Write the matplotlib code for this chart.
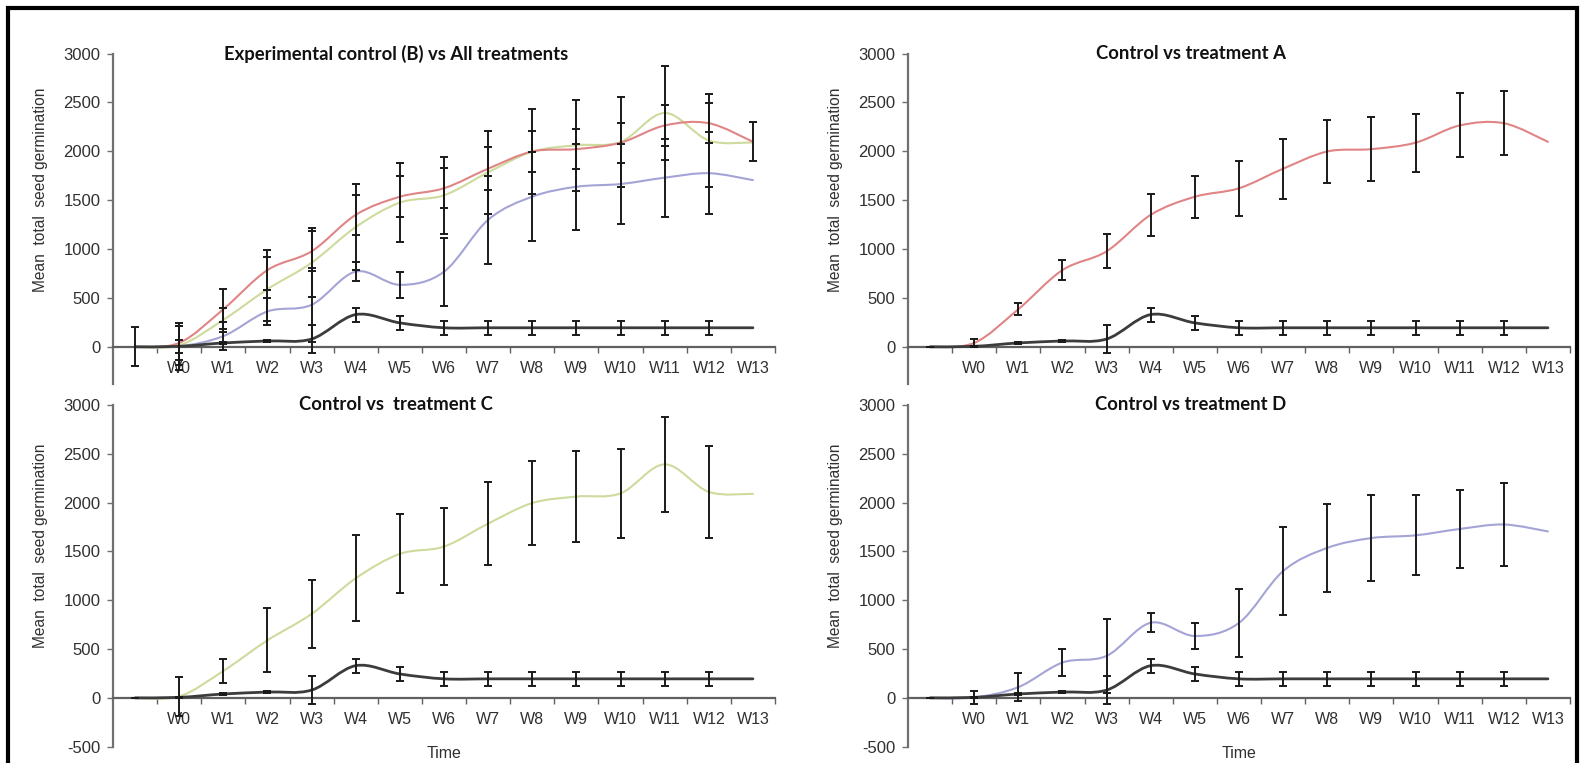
import matplotlib.pyplot as plt
import numpy as np
from matplotlib.path import Path
from matplotlib.patches import PathPatch, Rectangle

# categories: first slot is unlabeled, then weeks
weeks = ['', 'W0', 'W1', 'W2', 'W3', 'W4', 'W5', 'W6', 'W7', 'W8', 'W9', 'W10', 'W11', 'W12', 'W13']

# mean total seed germination per series
control = [0, 5, 40, 60, 80, 330, 245, 195, 195, 195, 195, 195, 195, 195, 195]
treat_a = [0, 40, 385, 785, 977, 1350, 1535, 1622, 1822, 1998, 2022, 2088, 2264, 2287, 2097]
treat_c = [0, 15, 276, 590, 860, 1225, 1475, 1550, 1785, 1996, 2062, 2095, 2392, 2110, 2090]
treat_d = [0, 5, 110, 362, 430, 770, 634, 768, 1299, 1536, 1637, 1665, 1730, 1776, 1705]

nan = np.nan
# error bars (nan = no bar drawn)
err_control = [0, 5, 10, 8, 140, 72, 75, 73, 73, 73, 73, 73, 73, 73, nan]
err_a = [nan, 38, 60, 100, 175, 218, 215, 280, 308, 320, 324, 298, 327, 330, nan]
err_c = [nan, 200, 123, 327, 351, 440, 405, 396, 426, 435, 467, 459, 483, 472, nan]
err_d = [nan, 68, 141, 140, 380, 98, 133, 350, 447, 452, 440, 411, 400, 422, nan]
# the combined panel was built with its own bars for control and A
err_control_all = [200, 240, 10, 8, 140, 72, 75, 73, 73, 73, 73, 73, 73, 73, nan]
err_a_all = [nan, 170, 205, 205, 205, 206, 208, 205, 218, 205, 205, 203, 206, 207, 200]

c_ctrl = '#3c3c3c'
c_a = '#e08585'
c_c = '#cddb9c'
c_d = '#a4a4d6'

plt.rcParams['font.family'] = ['Liberation Sans', 'DejaVu Sans']
plt.rcParams['axes.unicode_minus'] = False

fig = plt.figure(figsize=(15.85, 7.63), dpi=100)
W, H = 1585.0, 763.0


def smooth_line(ax, y, color, lw, z):
    # excel style smoothed line: cubic bezier through every point
    x = np.arange(len(y), dtype=float)
    y = np.asarray(y, dtype=float)
    pts = np.column_stack([x, y])
    verts = [pts[0]]
    codes = [Path.MOVETO]
    n = len(pts)
    for i in range(n - 1):
        p0 = pts[max(i - 1, 0)]
        p1 = pts[i]
        p2 = pts[i + 1]
        p3 = pts[min(i + 2, n - 1)]
        c1 = p1 + (p2 - p0) / 6.0
        c2 = p2 - (p3 - p1) / 6.0
        verts += [c1, c2, p2]
        codes += [Path.CURVE4] * 3
    patch = PathPatch(Path(verts, codes), fill=False, edgecolor=color, lw=lw, zorder=z,
                      capstyle='round', joinstyle='round')
    ax.add_patch(patch)


def bars(ax, y, err):
    x = np.arange(len(y))
    y = np.asarray(y, dtype=float)
    err = np.asarray(err, dtype=float)
    ok = ~np.isnan(err)
    ax.errorbar(x[ok], y[ok], yerr=err[ok], fmt='none', ecolor='#1a1a1a',
                elinewidth=1.4, capsize=3, capthick=1.4, zorder=5)


def panel(left_px, top_px, bottom_px, ymin, title, bottom_row):
    ax = fig.add_axes([left_px / W, 1 - bottom_px / H, 662 / W, (bottom_px - top_px) / H])
    ax.set_xlim(-0.5, 14.5)
    ax.set_ylim(ymin, 3000)
    ax.patch.set_alpha(0)
    for s in ['top', 'right']:
        ax.spines[s].set_visible(False)
    ax.spines['bottom'].set_position(('data', 0))
    ax.spines['left'].set_color('#707070')
    ax.spines['bottom'].set_color('#606060')
    ax.spines['left'].set_linewidth(1.6)
    ax.spines['bottom'].set_linewidth(1.6)

    ax.set_yticks(np.arange(0 if not bottom_row else -500, 3001, 500))
    ax.tick_params(axis='y', length=4, width=1, color='#707070', labelsize=12, pad=5,
                   labelcolor='#303030')
    # category ticks between the slots, labels in the middle
    ax.set_xticks(np.arange(0.5, 14.6, 1.0))
    ax.set_xticklabels([])
    ax.tick_params(axis='x', which='major', length=4, width=1, color='#606060')
    ax.set_xticks(np.arange(15), minor=True)
    ax.set_xticklabels(weeks, minor=True)
    ax.tick_params(axis='x', which='minor', length=0, labelsize=11.5, pad=10, labelcolor='#303030')

    ax.set_ylabel('Mean  total  seed germination', fontsize=11.2, color='#303030')
    ax.yaxis.set_label_coords(-0.098, 0.587)
    if bottom_row:
        ax.text(0.5, -570, 'Time', transform=ax.get_yaxis_transform(), ha='center', va='center',
                fontsize=11.5, color='#303030', clip_on=False)
    ax.text(0.427, 3000, title, transform=ax.get_yaxis_transform(), ha='center', va='center',
            fontsize=13.3, fontweight='bold', family=['Lato', 'DejaVu Sans'], color='#111111')
    return ax


# overview panel
ax1 = panel(113, 53.5, 384, -380, 'Experimental control (B) vs All treatments', False)
smooth_line(ax1, treat_d, c_d, 1.5, 3)
smooth_line(ax1, treat_c, c_c, 1.5, 3)
smooth_line(ax1, treat_a, c_a, 1.5, 3)
smooth_line(ax1, control, c_ctrl, 2.0, 4)
bars(ax1, treat_a, err_a_all)
bars(ax1, treat_c, err_c)
bars(ax1, treat_d, err_d)
bars(ax1, control, err_control_all)

# control vs A
ax2 = panel(908, 53.5, 384, -380, 'Control vs treatment A', False)
smooth_line(ax2, treat_a, c_a, 1.5, 3)
smooth_line(ax2, control, c_ctrl, 2.0, 4)
bars(ax2, treat_a, err_a)
bars(ax2, control, err_control)

# control vs C
ax3 = panel(113, 405, 746.7, -500, 'Control vs  treatment C', True)
smooth_line(ax3, treat_c, c_c, 1.5, 3)
smooth_line(ax3, control, c_ctrl, 2.0, 4)
bars(ax3, treat_c, err_c)
bars(ax3, control, err_control)

# control vs D
ax4 = panel(908, 405, 746.7, -500, 'Control vs treatment D', True)
smooth_line(ax4, treat_d, c_d, 1.5, 3)
smooth_line(ax4, control, c_ctrl, 2.0, 4)
bars(ax4, treat_d, err_d)
bars(ax4, control, err_control)

# frame around the whole figure
fig.patches.append(Rectangle((8 / W, -0.05), (1577 - 8) / W, 1.05 - 8 / H, transform=fig.transFigure,
                             fill=False, edgecolor='black', lw=3))

fig.savefig('out.png', dpi=100, facecolor='white')
